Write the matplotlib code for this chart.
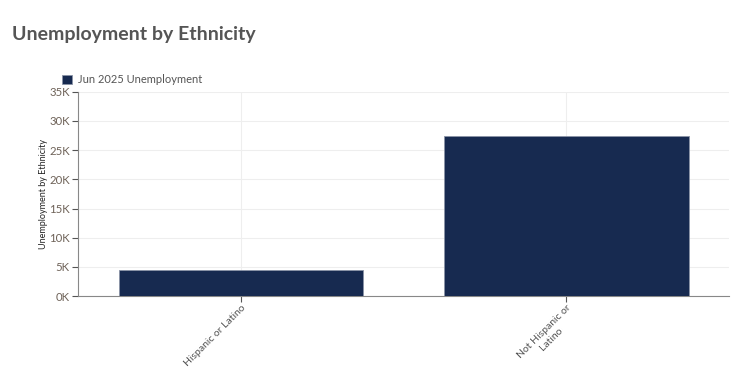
import matplotlib.pyplot as plt
from matplotlib.ticker import FuncFormatter

# Data
categories = ['Hispanic or Latino', 'Not Hispanic or\nLatino']
unemployment = [4400, 27500]
series_name = 'Jun 2025 Unemployment'

bar_color = '#172a50'
tick_color = '#6e6258'

plt.rcParams['font.family'] = ['Lato', 'DejaVu Sans']

fig = plt.figure(figsize=(7.51, 3.81), dpi=100)
ax = fig.add_axes([0.104, 0.223, 0.867, 0.536])

ax.bar(range(len(categories)), unemployment, width=0.75, color=bar_color,
       edgecolor='#8a93a6', linewidth=0.6, label=series_name, zorder=3)

ax.set_xlim(-0.5, len(categories) - 0.5)
ax.set_ylim(0, 35000)
ax.set_yticks(range(0, 35001, 5000))
ax.yaxis.set_major_formatter(FuncFormatter(lambda v, p: f'{int(v / 1000)}K'))
ax.set_xticks(range(len(categories)))
ax.set_xticklabels(categories, rotation=45, ha='right', rotation_mode='anchor',
                   fontsize=7.5, color='#555555', multialignment='center')

ax.grid(True, color='#eeeeee', linewidth=0.8, zorder=0)
for s in ['top', 'right']:
    ax.spines[s].set_visible(False)
for s in ['left', 'bottom']:
    ax.spines[s].set_color('#888888')
ax.tick_params(axis='y', labelsize=8.2, colors='#555555', labelcolor=tick_color, length=4, pad=2)
ax.tick_params(axis='x', length=4, colors='#555555', pad=1)

ax.set_ylabel('Unemployment by Ethnicity', fontsize=6.5, color='#222222')
ax.yaxis.set_label_coords(-0.046, 0.5)

fig.text(0.016, 0.895, 'Unemployment by Ethnicity', fontsize=14, fontweight='bold',
         color='#555555')

ax.legend(loc='lower left', bbox_to_anchor=(-0.035, 1.0), frameon=False,
          fontsize=8, labelcolor='#555555', handlelength=0.9, handleheight=0.9,
          handletextpad=0.5, borderaxespad=0.2)

fig.savefig('out.png', dpi=100)
